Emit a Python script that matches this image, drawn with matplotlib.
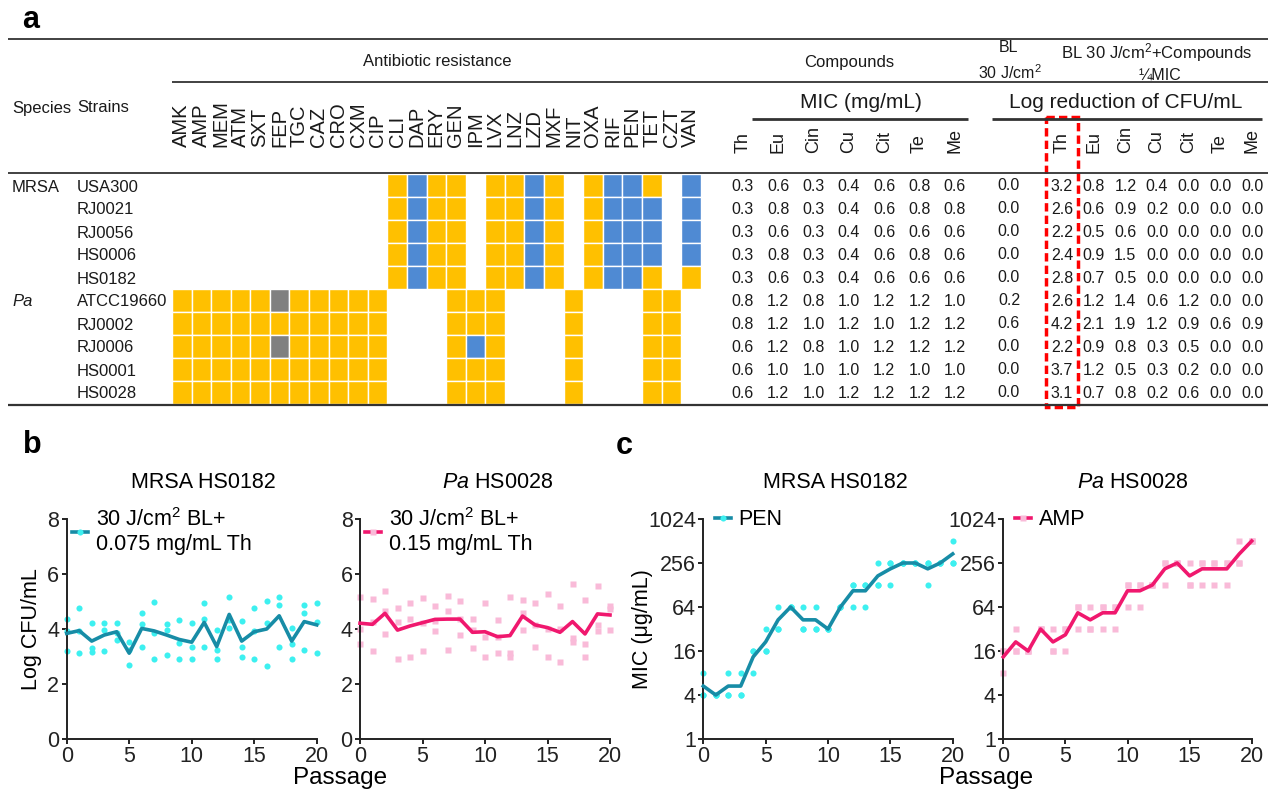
import numpy as np
import matplotlib.pyplot as plt
from matplotlib.patches import Rectangle
from matplotlib.lines import Line2D
from matplotlib.ticker import NullLocator

plt.rcParams['font.family'] = ['Liberation Sans', 'DejaVu Sans']
plt.rcParams['mathtext.fontset'] = 'custom'
plt.rcParams['mathtext.rm'] = 'Liberation Sans'
plt.rcParams['mathtext.it'] = 'Liberation Sans:italic'

# ---------------- data: panel a ----------------
antibiotics = ["AMK", "AMP", "MEM", "ATM", "SXT", "FEP", "TGC", "CAZ", "CRO", "CXM", "CIP",
               "CLI", "DAP", "ERY", "GEN", "IPM", "LVX", "LNZ", "LZD", "MXF", "NIT", "OXA",
               "RIF", "PEN", "TET", "CZT", "VAN"]
species = ["MRSA", "", "", "", "", "Pa", "", "", "", ""]
strains = ["USA300", "RJ0021", "RJ0056", "HS0006", "HS0182",
           "ATCC19660", "RJ0002", "RJ0006", "HS0001", "HS0028"]
# o = resistant (orange), b = blue, g = grey, . = empty
resistance = [
    "..........." + "oboo.oobo.obbo.b",
    "..........." + "oboo.oobo.obbb.b",
    "..........." + "oboo.oobo.obbb.b",
    "..........." + "oboo.oobo.obbb.b",
    "..........." + "oboo.oobo.obbo.o",
    "ooooogooooo" + "...ooo...o...oo.",
    "ooooooooooo" + "...ooo...o...oo.",
    "ooooogooooo" + "...obo...o...oo.",
    "ooooooooooo" + "...ooo...o...oo.",
    "ooooooooooo" + "...ooo...o...oo.",
]
compounds = ["Th", "Eu", "Cin", "Cu", "Cit", "Te", "Me"]
mic_vals = [
    [0.3, 0.6, 0.3, 0.4, 0.6, 0.8, 0.6],
    [0.3, 0.8, 0.3, 0.4, 0.6, 0.8, 0.8],
    [0.3, 0.6, 0.3, 0.4, 0.6, 0.6, 0.6],
    [0.3, 0.8, 0.3, 0.4, 0.6, 0.8, 0.6],
    [0.3, 0.6, 0.3, 0.4, 0.6, 0.6, 0.6],
    [0.8, 1.2, 0.8, 1.0, 1.2, 1.2, 1.0],
    [0.8, 1.2, 1.0, 1.2, 1.0, 1.2, 1.2],
    [0.6, 1.2, 0.8, 1.0, 1.2, 1.2, 1.2],
    [0.6, 1.0, 1.0, 1.0, 1.2, 1.0, 1.0],
    [0.6, 1.2, 1.0, 1.2, 1.2, 1.2, 1.2],
]
bl_vals = [0.0, 0.0, 0.0, 0.0, 0.0, 0.2, 0.6, 0.0, 0.0, 0.0]
logred_vals = [
    [3.2, 0.8, 1.2, 0.4, 0.0, 0.0, 0.0],
    [2.6, 0.6, 0.9, 0.2, 0.0, 0.0, 0.0],
    [2.2, 0.5, 0.6, 0.0, 0.0, 0.0, 0.0],
    [2.4, 0.9, 1.5, 0.0, 0.0, 0.0, 0.0],
    [2.8, 0.7, 0.5, 0.0, 0.0, 0.0, 0.0],
    [2.6, 1.2, 1.4, 0.6, 1.2, 0.0, 0.0],
    [4.2, 2.1, 1.9, 1.2, 0.9, 0.6, 0.9],
    [2.2, 0.9, 0.8, 0.3, 0.5, 0.0, 0.0],
    [3.7, 1.2, 0.5, 0.3, 0.2, 0.0, 0.0],
    [3.1, 0.7, 0.8, 0.2, 0.6, 0.0, 0.0],
]

# ---------------- data: panels b, c ----------------
passage = np.arange(21)
mrsa_cfu_mean = [3.84, 3.94, 3.56, 3.78, 3.9, 3.12, 4.02, 3.93, 3.78, 3.62, 3.52,
                 4.24, 3.36, 4.53, 3.56, 3.9, 4.0, 4.48, 3.56, 4.27, 4.15]
mrsa_cfu_reps = [[4.35, 3.94, 3.21], [4.78, 3.94, 3.12], [4.21, 3.32, 3.15], [4.23, 3.96, 3.2],
                 [4.23, 3.87, 3.6], [3.52, 3.24, 2.69], [4.57, 4.18, 3.36], [4.97, 3.84, 2.91],
                 [4.17, 3.96, 3.05], [4.33, 3.5, 2.91], [4.23, 3.36, 2.91], [4.93, 4.36, 3.36],
                 [3.96, 3.24, 2.91], [5.18, 4.33, 4.02], [4.3, 3.36, 2.99], [4.78, 3.93, 2.91],
                 [5.03, 4.23, 2.65], [5.18, 4.87, 3.36], [4.02, 3.44, 2.91], [4.87, 4.59, 3.24],
                 [4.93, 4.27, 3.14]]
pa_cfu_mean = [4.21, 4.17, 4.57, 3.96, 4.11, 4.23, 4.35, 4.36, 4.36, 3.88, 3.9,
               3.72, 3.76, 4.47, 4.15, 4.05, 3.88, 4.27, 3.82, 4.55, 4.51]
pa_cfu_reps = [[5.18, 4.0, 3.44], [5.08, 4.27, 3.2], [5.39, 4.65, 3.81], [4.75, 4.27, 2.91],
               [4.93, 4.35, 2.99], [5.12, 4.23, 3.21], [4.85, 4.29, 3.93], [5.2, 4.65, 3.24],
               [5.02, 4.36, 3.78], [4.35, 3.96, 3.32], [4.96, 3.72, 2.99], [4.33, 3.72, 3.14],
               [5.15, 3.14, 2.99], [5.05, 4.57, 3.96], [4.93, 4.15, 3.36], [5.26, 3.99, 2.99],
               [4.85, 4.0, 2.81], [5.62, 3.66, 3.54], [5.05, 3.44, 2.99], [5.56, 4.15, 3.93],
               [4.85, 4.72, 3.96]]
pen_mic_mean = [5.3, 4, 5.3, 5.3, 13.3, 21.3, 42.7, 64, 42.7, 42.7, 32,
                64, 106.7, 106.7, 170.7, 213, 256, 256, 213, 256, 341]
pen_mic_reps = [[8, 4, 4], [4, 4, 4], [8, 4, 4], [8, 4, 4], [16, 16, 8], [32, 16, 16],
                [64, 32, 32], [64, 64, 64], [64, 32, 32], [64, 32, 32], [32, 32, 32],
                [64, 64, 64], [128, 128, 64], [128, 128, 64], [256, 128, 128], [256, 256, 128],
                [256, 256, 256], [256, 256, 256], [256, 256, 128], [256, 256, 256], [512, 256, 256]]
amp_mic_mean = [13.3, 21.3, 16, 32, 21.3, 26.7, 53.3, 42.7, 53.3, 53.3, 106.7,
                106.7, 128, 213, 256, 170.7, 213, 213, 213, 341, 512]
amp_mic_reps = [[16, 16, 8], [32, 16, 16], [16, 16, 16], [32, 32, 32], [32, 16, 16], [32, 32, 16],
                [64, 64, 32], [64, 32, 32], [64, 64, 32], [64, 64, 32], [128, 128, 64],
                [128, 128, 64], [128, 128, 128], [256, 256, 128], [256, 256, 256], [256, 128, 128],
                [256, 256, 128], [256, 256, 128], [256, 256, 128], [512, 256, 256], [512, 512, 512]]

# ---------------- figure ----------------
W, H = 1271, 794
fig = plt.figure(figsize=(W / 100, H / 100), dpi=100)

ax_t = fig.add_axes([0, 0, 1, 1])
ax_t.set_xlim(0, W)
ax_t.set_ylim(H, 0)
ax_t.axis('off')

txt = '#1a1a1a'
narrow = ['Liberation Sans Narrow', 'Liberation Sans', 'DejaVu Sans']

# rules of the table
for y, x0, x1, lw in [(39, 8, 1268, 1.3), (82, 172, 1268, 1.3), (173, 8, 1268, 1.3),
                      (405, 8, 1268, 1.6), (119, 752, 968, 2.0), (119, 992, 1262, 2.0)]:
    ax_t.plot([x0, x1], [y, y], color='#333333', lw=lw, solid_capstyle='butt')

ax_t.text(31, 20, "a", fontsize=22, fontweight='bold', ha='center', va='center')
ax_t.text(437, 62, "Antibiotic resistance", fontsize=12, ha='center', va='center', color=txt)
ax_t.text(849, 62, "Compounds", fontsize=12, ha='center', va='center', color=txt)
ax_t.text(1009, 48, "BL", fontsize=11.5, ha='center', va='center', color=txt)
ax_t.text(1010, 73, "30 J/cm$^2$", fontsize=11.5, ha='center', va='center', color=txt)
ax_t.text(1156, 53, "BL 30 J/cm$^2$+Compounds", fontsize=12, ha='center', va='center', color=txt)
ax_t.text(1160, 75, "\u00bcMIC", fontsize=11.5, ha='center', va='center', color=txt)
ax_t.text(861, 103, "MIC (mg/mL)", fontsize=15, ha='center', va='center', color=txt)
ax_t.text(1126, 103, "Log reduction of CFU/mL", fontsize=15, ha='center', va='center', color=txt)
ax_t.text(12, 108, "Species", fontsize=12, ha='left', va='center', color=txt)
ax_t.text(77, 108, "Strains", fontsize=12, ha='left', va='center', color=txt)

# heatmap of resistance
cell_colors = {'o': '#FFC000', 'b': '#4F8AD3', 'g': '#808080'}
hx0, hy0, col_w, row_h = 172, 174, 19.58, 23.0
for j, name in enumerate(antibiotics):
    ax_t.text(hx0 + (j + 0.5) * col_w, 147, name, rotation=90, ha='center', va='bottom',
              fontsize=14.5, family=narrow, color=txt)
for i, row in enumerate(resistance):
    for j, code in enumerate(row):
        if code == '.':
            continue
        ax_t.add_patch(Rectangle((hx0 + j * col_w, hy0 + i * row_h), col_w, row_h,
                                 fc=cell_colors[code], ec='white', lw=1.0))

mic_x = [743 + 35.3 * k for k in range(len(compounds))]
bl_x = 1009
lr_x = [1062 + 31.67 * k for k in range(len(compounds))]
for k, c in enumerate(compounds):
    ax_t.text(mic_x[k], 153, c, rotation=90, ha='center', va='bottom', fontsize=13,
              family=narrow, color=txt)
    ax_t.text(lr_x[k], 153, c, rotation=90, ha='center', va='bottom', fontsize=13,
              family=narrow, color=txt)

for i in range(len(strains)):
    yb = hy0 + (i + 0.5) * row_h + 6
    if species[i]:
        ax_t.text(12, yb, species[i], fontsize=12, ha='left', va='baseline', color=txt,
                  fontstyle='italic' if species[i] == 'Pa' else 'normal')
    ax_t.text(77, yb, strains[i], fontsize=12, ha='left', va='baseline', color=txt)
    for k in range(len(compounds)):
        ax_t.text(mic_x[k], yb - 0.5, f"{mic_vals[i][k]:.1f}", fontsize=11.5, ha='center',
                  va='baseline', color=txt)
        ax_t.text(lr_x[k], yb - 0.5, f"{logred_vals[i][k]:.1f}", fontsize=11.5, ha='center',
                  va='baseline', color=txt)
    ax_t.text(bl_x, yb - 1.5, f"{bl_vals[i]:.1f}", fontsize=11.5, ha='center', va='baseline',
              color=txt)

ax_t.add_patch(Rectangle((1046, 117), 32, 290, fill=False, ec='#FF0000', lw=2.5,
                         ls=(0, (2.4, 1.2))))

ax_t.text(32, 445, "b", fontsize=22, fontweight='bold', ha='center', va='center')
ax_t.text(624, 446, "c", fontsize=22, fontweight='bold', ha='center', va='center')
ax_t.text(340, 784, "Passage", fontsize=17.5, ha='center', va='baseline')
ax_t.text(986, 784, "Passage", fontsize=17.5, ha='center', va='baseline')

# ---------------- panels b and c ----------------
teal, cyan = '#178CA6', '#3DF0F0'
pink, light_pink = '#F0186E', '#F9BAD8'


def px_axes(x0, y0, x1, y1):
    return fig.add_axes([x0 / W, 1 - y1 / H, (x1 - x0) / W, (y1 - y0) / H])


def style(ax):
    for s in ['top', 'right']:
        ax.spines[s].set_visible(False)
    for s in ['left', 'bottom']:
        ax.spines[s].set_linewidth(1.4)
        ax.spines[s].set_color('#222222')
    ax.tick_params(length=3.8, width=1.4, pad=1.5, labelsize=15.5, colors='#222222')
    ax.set_xlim(0, 20)
    ax.set_xticks([0, 5, 10, 15, 20])
    ax.patch.set_alpha(0)


def draw(ax, mean, reps, line_c, dot_c, marker, ms, label, anchor):
    reps = np.array(reps, dtype=float)
    ax.plot(np.repeat(passage, reps.shape[1]), reps.ravel(), ls='none', marker=marker, ms=ms,
            color=dot_c, mec='none', clip_on=False, zorder=2)
    ax.plot(passage, mean, color=line_c, lw=2.6, clip_on=False, zorder=3)
    proxy = Line2D([], [], color=line_c, lw=2.6, marker=marker, ms=ms, mfc=dot_c, mec='none')
    ax.legend([proxy], [label], loc='upper left', bbox_to_anchor=anchor, frameon=False,
              fontsize=15.5, handlelength=0.75, handletextpad=0.35, borderpad=0,
              borderaxespad=0, labelspacing=0.2)


def title(ax, x_px, text):
    ax_t.text(x_px, 483, text, fontsize=15.5, ha='center', va='center')


ax1 = px_axes(66.7, 519, 316.7, 739)
style(ax1)
ax1.set_ylim(0, 8)
ax1.set_yticks([0, 2, 4, 6, 8])
draw(ax1, mrsa_cfu_mean, mrsa_cfu_reps, teal, cyan, 'o', 4.4,
     "30 J/cm$^2$ BL+\n0.075 mg/mL Th", (0.021, 1.05))
ax1.set_ylabel("Log CFU/mL", fontsize=15.5)
ax1.yaxis.set_label_coords(-0.1, 0.5)
title(ax1, 203, "MRSA HS0182")

ax2 = px_axes(360, 519, 610, 739)
style(ax2)
ax2.set_ylim(0, 8)
ax2.set_yticks([0, 2, 4, 6, 8])
draw(ax2, pa_cfu_mean, pa_cfu_reps, pink, light_pink, 's', 4.0,
     "30 J/cm$^2$ BL+\n0.15 mg/mL Th", (0.02, 1.05))
title(ax2, 497, "$\\mathit{Pa}$ HS0028")

mic_ticks = [1, 4, 16, 64, 256, 1024]
for (x0, x1, mean, reps, lc, dc, mk, ms, lab, tx, tt) in [
        (703.3, 952.7, pen_mic_mean, pen_mic_reps, teal, cyan, 'o', 4.4, "PEN", 835, "MRSA HS0182"),
        (1003.3, 1251.7, amp_mic_mean, amp_mic_reps, pink, light_pink, 's', 4.0, "AMP", 1132,
         "$\\mathit{Pa}$ HS0028")]:
    ax = px_axes(x0, 519, x1, 739)
    style(ax)
    ax.set_yscale('log', base=2)
    ax.set_ylim(1, 1024)
    ax.set_yticks(mic_ticks)
    ax.set_yticklabels([str(t) for t in mic_ticks])
    ax.yaxis.set_minor_locator(NullLocator())
    draw(ax, mean, reps, lc, dc, mk, ms, lab, (0.047, 1.045))
    title(ax, tx, tt)
    if lab == "PEN":
        ax.set_ylabel("MIC (\u03bcg/mL)", fontsize=15.5)
        ax.yaxis.set_label_coords(-0.2, 0.5)

fig.savefig("out.png", dpi=100)
